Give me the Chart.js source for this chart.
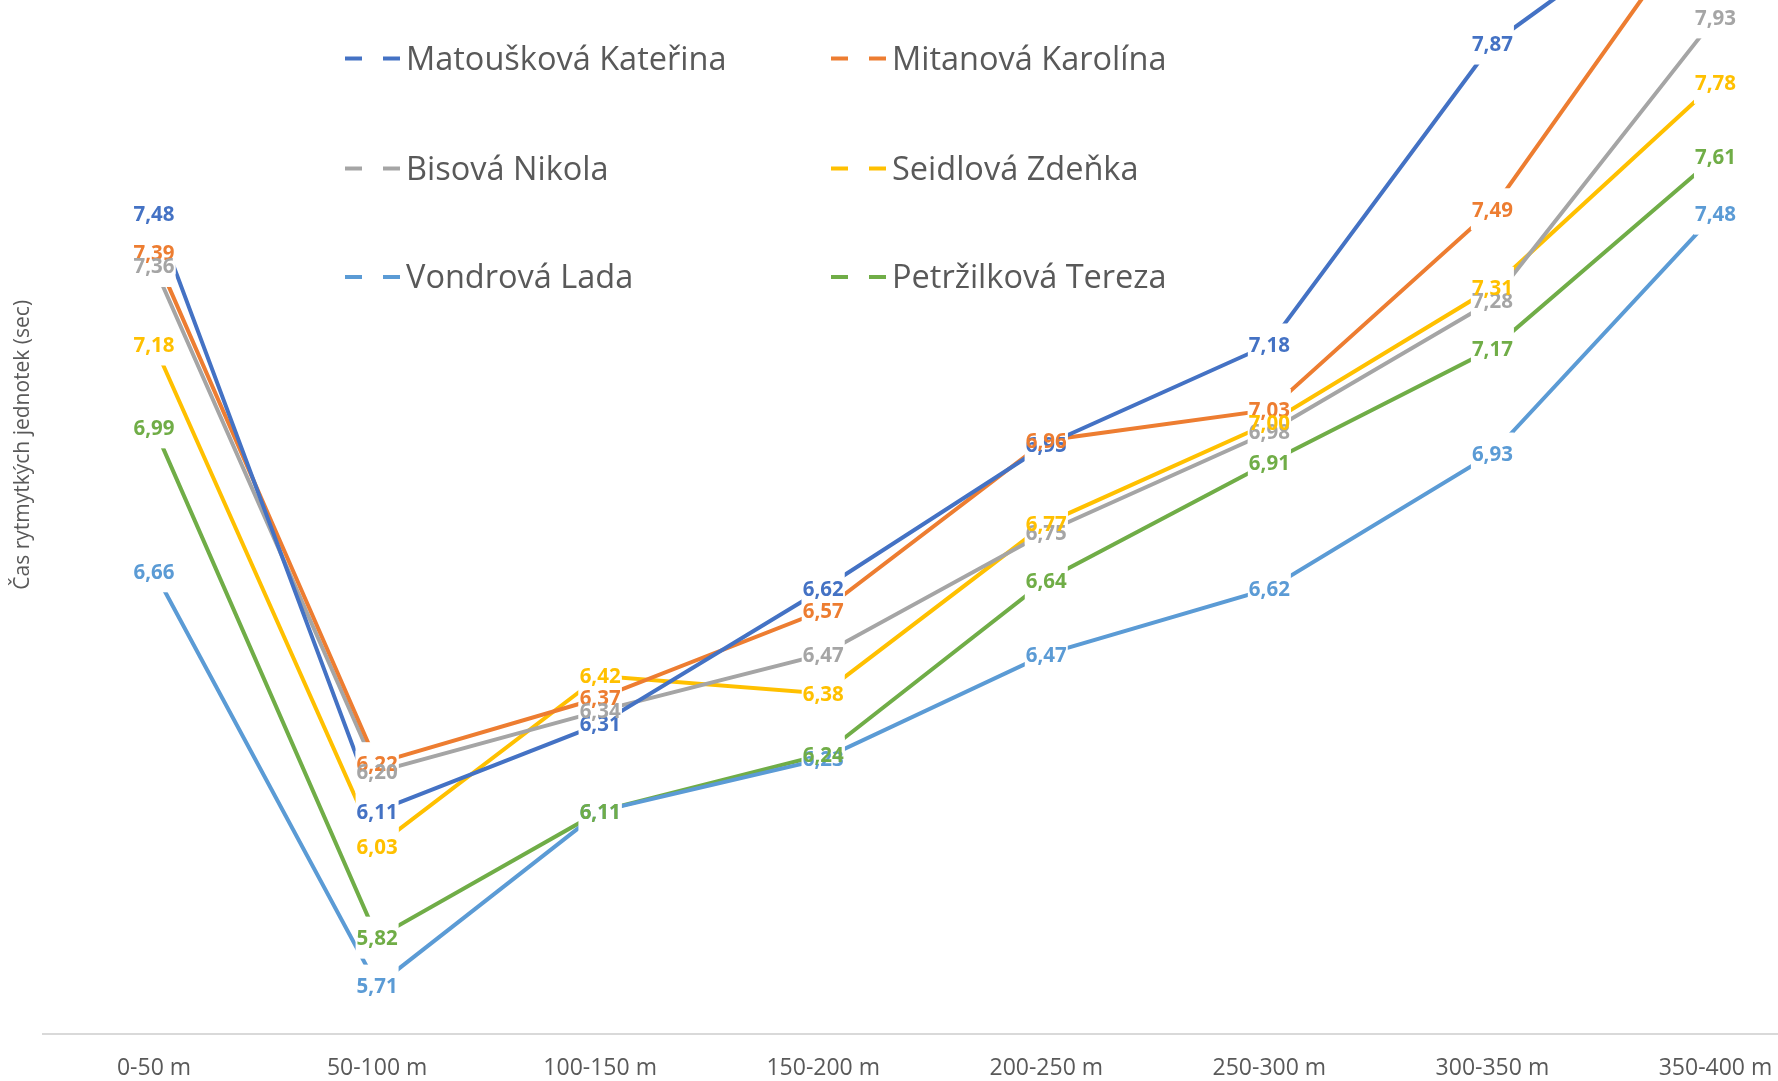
<!DOCTYPE html>
<html>
<head>
<meta charset="utf-8">
<script src="https://cdn.jsdelivr.net/npm/chart.js@4.4.0/dist/chart.umd.min.js"></script>
<style>
    html, body { margin: 0; padding: 0; background: #fff; overflow: hidden; width: 1778px; height: 1081px; }
    #wrap { position: absolute; left: 0; top: -144px; width: 1840px; height: 1251px; }
</style>
</head>
<body>
<div id="wrap"><canvas id="chart" width="1840" height="1251"></canvas></div>
<script>
'use strict';

// Categories (distance segments)
const categories = ['0-50 m', '50-100 m', '100-150 m', '150-200 m', '200-250 m', '250-300 m', '300-350 m', '350-400 m'];

// Series names
const seriesNames = ['Matoušková Kateřina', 'Mitanová Karolína', 'Bisová Nikola', 'Seidlová Zdeňka', 'Vondrová Lada', 'Petržilková Tereza'];

// Values (sec) - last two points of the first two series run off the top of the picture, estimated from slope
const matouskova = [7.48, 6.11, 6.31, 6.62, 6.95, 7.18, 7.87, 8.24];
const mitanova   = [7.39, 6.22, 6.37, 6.57, 6.96, 7.03, 7.49, 8.21];
const bisova     = [7.36, 6.20, 6.34, 6.47, 6.75, 6.98, 7.28, 7.93];
const seidlova   = [7.18, 6.03, 6.42, 6.38, 6.77, 7.00, 7.31, 7.78];
const vondrova   = [6.66, 5.71, 6.11, 6.23, 6.47, 6.62, 6.93, 7.48];
const petrzilkova = [6.99, 5.82, 6.11, 6.24, 6.64, 6.91, 7.17, 7.61];

const seriesColors = ['#4472C4', '#ED7D31', '#A5A5A5', '#FFC000', '#5B9BD5', '#70AD47'];

const FONT = '"Open Sans", sans-serif';
const TEXT_GREY = '#595959';
const CANVAS_TOP = 144; // canvas is shifted up, like the cropped original

// Data labels centred on the points, with a white box under each one
const valueLabels = {
    id: 'valueLabels',
    afterDatasetsDraw(chart) {
        const ctx = chart.ctx;
        ctx.save();
        ctx.font = 'bold 20.5px ' + FONT;
        const capH = ctx.measureText('0').actualBoundingBoxAscent;
        const items = [];
        chart.data.datasets.forEach((ds, i) => {
            chart.getDatasetMeta(i).data.forEach((pt, j) => {
                const text = ds.data[j].toFixed(2).replace('.', ',');
                items.push({ x: pt.x, y: pt.y, text, w: ctx.measureText(text).width, color: ds.borderColor });
            });
        });
        // boxes first, so overlapping labels stay readable
        ctx.fillStyle = '#fff';
        items.forEach(it => ctx.fillRect(it.x - it.w / 2 - 1, it.y - 21, it.w + 2, 42));
        ctx.textAlign = 'center';
        ctx.textBaseline = 'alphabetic';
        items.forEach(it => {
            ctx.fillStyle = it.color;
            ctx.fillText(it.text, it.x, it.y + capH / 2);
        });
        ctx.restore();
    }
};

// Legend inside the plot area, 2 columns x 3 rows
const insideLegend = {
    id: 'insideLegend',
    afterDraw(chart) {
        const ctx = chart.ctx;
        const colX = [345, 831];
        const rowY = [57.5, 167.5, 276];
        ctx.save();
        ctx.font = '32.5px ' + FONT;
        const capH = ctx.measureText('M').actualBoundingBoxAscent;
        ctx.textAlign = 'left';
        ctx.textBaseline = 'alphabetic';
        chart.data.datasets.forEach((ds, i) => {
            const x = colX[i % 2];
            const y = rowY[Math.floor(i / 2)] + CANVAS_TOP;
            ctx.strokeStyle = ds.borderColor;
            ctx.lineWidth = 4;
            ctx.beginPath();
            ctx.moveTo(x, y + 1); ctx.lineTo(x + 17, y + 1);
            ctx.moveTo(x + 38, y + 1); ctx.lineTo(x + 55, y + 1);
            ctx.stroke();
            ctx.fillStyle = TEXT_GREY;
            ctx.fillText(ds.label, x + 61, y + capH / 2);
        });
        ctx.restore();
    }
};

const allSeries = [matouskova, mitanova, bisova, seidlova, vondrova, petrzilkova];

new Chart(document.getElementById('chart'), {
    type: 'line',
    data: {
        labels: categories,
        datasets: allSeries.map((values, i) => ({
            label: seriesNames[i],
            data: values,
            borderColor: seriesColors[i],
            backgroundColor: seriesColors[i],
            borderWidth: 4,
            pointRadius: 0,
            tension: 0,
            fill: false
        }))
    },
    options: {
        responsive: false,
        animation: false,
        devicePixelRatio: 1,
        layout: { padding: { left: 6.3, right: 13, top: 0, bottom: 3.8 } },
        plugins: {
            legend: { display: false },
            tooltip: { enabled: false }
        },
        scales: {
            x: {
                offset: true,
                grid: { display: false, drawTicks: false },
                border: { display: true, color: '#D9D9D9', width: 2 },
                ticks: {
                    color: TEXT_GREY,
                    font: { family: FONT, size: 23 },
                    padding: 21,
                    maxRotation: 0,
                    autoSkip: false
                }
            },
            y: {
                min: 5.6,
                max: 8.3,
                grid: { display: false, drawTicks: false },
                border: { display: false },
                ticks: { display: false },
                title: {
                    display: true,
                    text: 'Čas rytmytkých jednotek (sec)',
                    color: TEXT_GREY,
                    font: { family: FONT, size: 21 },
                    padding: { top: 4, bottom: 7 }
                }
            }
        }
    },
    plugins: [valueLabels, insideLegend]
});
</script>
</body>
</html>
